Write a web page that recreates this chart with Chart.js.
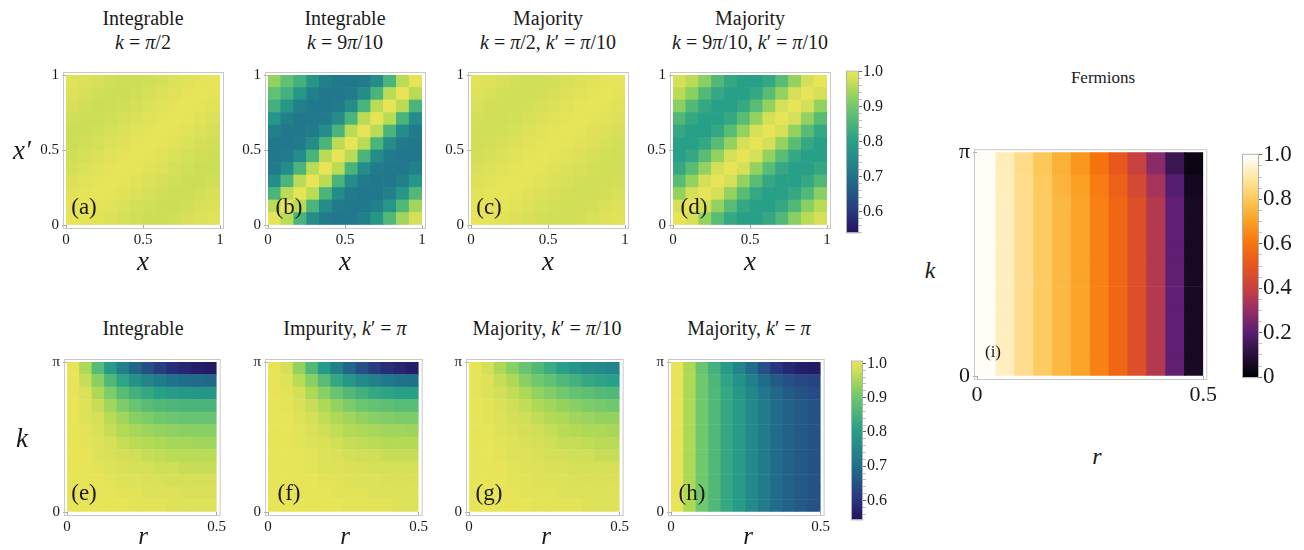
<!DOCTYPE html>
<html>
<head>
<meta charset="utf-8">
<script src="https://cdn.jsdelivr.net/npm/chart.js@4.4.1/dist/chart.umd.min.js"></script>
<style>
  body { margin:0; background:#fff; width:1304px; height:550px; position:relative; overflow:hidden; font-family:"Liberation Serif", "DejaVu Serif", "Times New Roman", serif; color:#1a1a1a; }
  canvas { position:absolute; }
  .lbl { position:absolute; white-space:nowrap; transform:translate(-50%,-50%); }
  .title { font-size:20px; line-height:24px; text-align:center; }
  .ax { font-style:italic; font-size:27px; }
  .tag { font-size:23px; }
  i { font-style:italic; }
</style>
</head>
<body>
<div id="charts"></div>

<div class="lbl title" style="left:143px;top:30px">Integrable<br><i>k</i> = <i>π</i>/2</div>
<div class="lbl title" style="left:345px;top:30px">Integrable<br><i>k</i> = 9<i>π</i>/10</div>
<div class="lbl title" style="left:548px;top:30px">Majority<br><i>k</i> = <i>π</i>/2, <i>k</i>′ = <i>π</i>/10</div>
<div class="lbl title" style="left:750px;top:30px">Majority<br><i>k</i> = 9<i>π</i>/10, <i>k</i>′ = <i>π</i>/10</div>

<div class="lbl title" style="left:143px;top:328px">Integrable</div>
<div class="lbl title" style="left:345px;top:328px">Impurity, <i>k</i>′ = <i>π</i></div>
<div class="lbl title" style="left:547px;top:328px">Majority, <i>k</i>′ = <i>π</i>/10</div>
<div class="lbl title" style="left:749px;top:328px">Majority, <i>k</i>′ = <i>π</i></div>
<div class="lbl title" style="left:1103px;top:78px;font-size:17px">Fermions</div>

<div class="lbl ax" style="left:22px;top:150px">x′</div>
<div class="lbl ax" style="left:143px;top:261px">x</div>
<div class="lbl ax" style="left:345px;top:261px">x</div>
<div class="lbl ax" style="left:548px;top:261px">x</div>
<div class="lbl ax" style="left:750px;top:261px">x</div>
<div class="lbl ax" style="left:22px;top:438px">k</div>
<div class="lbl ax" style="left:143px;top:536px;font-size:25px">r</div>
<div class="lbl ax" style="left:345px;top:536px;font-size:25px">r</div>
<div class="lbl ax" style="left:546px;top:536px;font-size:25px">r</div>
<div class="lbl ax" style="left:748px;top:536px;font-size:25px">r</div>
<div class="lbl ax" style="left:930px;top:270px;font-size:24px">k</div>
<div class="lbl ax" style="left:1097px;top:456px;font-size:24px">r</div>

<div class="lbl tag" style="left:84px;top:207px">(a)</div>
<div class="lbl tag" style="left:289px;top:207px">(b)</div>
<div class="lbl tag" style="left:489px;top:207px">(c)</div>
<div class="lbl tag" style="left:694px;top:207px">(d)</div>
<div class="lbl tag" style="left:84px;top:493px">(e)</div>
<div class="lbl tag" style="left:289px;top:493px">(f)</div>
<div class="lbl tag" style="left:489px;top:493px">(g)</div>
<div class="lbl tag" style="left:692px;top:493px">(h)</div>
<div class="lbl tag" style="left:993px;top:352px;font-size:17px">(i)</div>

<script>
// grids are written top row first (highest x' or k), left column first
const gridA = [
  [0.992,0.988,0.982,0.976,0.973,0.973,0.976,0.980,0.986,0.992,0.997,1.000],
  [0.988,0.982,0.976,0.973,0.973,0.976,0.980,0.986,0.992,0.997,1.000,0.997],
  [0.982,0.976,0.973,0.973,0.976,0.980,0.986,0.992,0.997,1.000,0.997,0.992],
  [0.976,0.973,0.973,0.976,0.980,0.986,0.992,0.997,1.000,0.997,0.992,0.986],
  [0.973,0.973,0.976,0.980,0.986,0.992,0.997,1.000,0.997,0.992,0.986,0.980],
  [0.973,0.976,0.980,0.986,0.992,0.997,1.000,0.997,0.992,0.986,0.980,0.976],
  [0.976,0.980,0.986,0.992,0.997,1.000,0.997,0.992,0.986,0.980,0.976,0.973],
  [0.980,0.986,0.992,0.997,1.000,0.997,0.992,0.986,0.980,0.976,0.973,0.973],
  [0.986,0.992,0.997,1.000,0.997,0.992,0.986,0.980,0.976,0.973,0.973,0.976],
  [0.992,0.997,1.000,0.997,0.992,0.986,0.980,0.976,0.973,0.973,0.976,0.982],
  [0.997,1.000,0.997,0.992,0.986,0.980,0.976,0.973,0.973,0.976,0.982,0.988],
  [1.000,0.997,0.992,0.986,0.980,0.976,0.973,0.973,0.976,0.982,0.988,0.992]
];
const gridB = [
  [0.93,0.88,0.84,0.78,0.73,0.71,0.71,0.72,0.76,0.85,0.96,1.00],
  [0.88,0.84,0.78,0.73,0.71,0.71,0.72,0.76,0.85,0.96,1.00,0.96],
  [0.84,0.78,0.73,0.71,0.71,0.72,0.76,0.85,0.96,1.00,0.96,0.85],
  [0.78,0.73,0.71,0.71,0.72,0.76,0.85,0.96,1.00,0.96,0.85,0.76],
  [0.73,0.71,0.71,0.72,0.76,0.85,0.96,1.00,0.96,0.85,0.76,0.72],
  [0.71,0.71,0.72,0.76,0.85,0.96,1.00,0.96,0.85,0.76,0.72,0.71],
  [0.71,0.72,0.76,0.85,0.96,1.00,0.96,0.85,0.76,0.72,0.71,0.71],
  [0.72,0.76,0.85,0.96,1.00,0.96,0.85,0.76,0.72,0.71,0.71,0.73],
  [0.76,0.85,0.96,1.00,0.96,0.85,0.76,0.72,0.71,0.71,0.73,0.78],
  [0.85,0.96,1.00,0.96,0.85,0.76,0.72,0.71,0.71,0.73,0.78,0.86],
  [0.96,1.00,0.96,0.85,0.76,0.72,0.71,0.71,0.73,0.78,0.86,0.94],
  [1.00,0.96,0.85,0.76,0.72,0.71,0.71,0.73,0.78,0.86,0.94,0.98]
];
const gridC = [
  [0.993,0.989,0.984,0.979,0.976,0.976,0.979,0.983,0.988,0.993,0.997,1.000],
  [0.989,0.984,0.979,0.976,0.976,0.979,0.983,0.988,0.993,0.997,1.000,0.997],
  [0.984,0.979,0.976,0.976,0.979,0.983,0.988,0.993,0.997,1.000,0.997,0.993],
  [0.979,0.976,0.976,0.979,0.983,0.988,0.993,0.997,1.000,0.997,0.993,0.988],
  [0.976,0.976,0.979,0.983,0.988,0.993,0.997,1.000,0.997,0.993,0.988,0.983],
  [0.976,0.979,0.983,0.988,0.993,0.997,1.000,0.997,0.993,0.988,0.983,0.979],
  [0.979,0.983,0.988,0.993,0.997,1.000,0.997,0.993,0.988,0.983,0.979,0.976],
  [0.983,0.988,0.993,0.997,1.000,0.997,0.993,0.988,0.983,0.979,0.976,0.976],
  [0.988,0.993,0.997,1.000,0.997,0.993,0.988,0.983,0.979,0.976,0.976,0.979],
  [0.993,0.997,1.000,0.997,0.993,0.988,0.983,0.979,0.976,0.976,0.979,0.984],
  [0.997,1.000,0.997,0.993,0.988,0.983,0.979,0.976,0.976,0.979,0.984,0.989],
  [1.000,0.997,0.993,0.988,0.983,0.979,0.976,0.976,0.979,0.984,0.989,0.993]
];
const gridD = [
  [0.98,0.96,0.92,0.86,0.82,0.80,0.80,0.82,0.87,0.93,0.98,1.00],
  [0.96,0.92,0.86,0.82,0.80,0.80,0.82,0.87,0.93,0.98,1.00,0.98],
  [0.92,0.86,0.82,0.80,0.80,0.82,0.87,0.93,0.98,1.00,0.98,0.93],
  [0.86,0.82,0.80,0.80,0.82,0.87,0.93,0.98,1.00,0.98,0.93,0.87],
  [0.82,0.80,0.80,0.82,0.87,0.93,0.98,1.00,0.98,0.93,0.87,0.82],
  [0.80,0.80,0.82,0.87,0.93,0.98,1.00,0.98,0.93,0.87,0.82,0.80],
  [0.80,0.82,0.87,0.93,0.98,1.00,0.98,0.93,0.87,0.82,0.80,0.80],
  [0.82,0.87,0.93,0.98,1.00,0.98,0.93,0.87,0.82,0.80,0.80,0.82],
  [0.87,0.93,0.98,1.00,0.98,0.93,0.87,0.82,0.80,0.80,0.82,0.86],
  [0.93,0.98,1.00,0.98,0.93,0.87,0.82,0.80,0.80,0.82,0.86,0.92],
  [0.98,1.00,0.98,0.93,0.87,0.82,0.80,0.80,0.82,0.86,0.92,0.96],
  [1.00,0.98,0.93,0.87,0.82,0.80,0.80,0.82,0.86,0.92,0.96,0.98]
];
const gridE = [
  [1.00,0.95,0.87,0.79,0.73,0.68,0.64,0.61,0.585,0.57,0.56,0.555],
  [1.00,0.97,0.92,0.86,0.81,0.77,0.74,0.72,0.70,0.69,0.685,0.68],
  [1.00,0.985,0.95,0.91,0.87,0.84,0.82,0.80,0.79,0.785,0.78,0.78],
  [1.00,0.99,0.97,0.94,0.91,0.89,0.87,0.86,0.855,0.85,0.85,0.85],
  [1.00,0.99,0.98,0.96,0.94,0.92,0.91,0.90,0.895,0.89,0.89,0.89],
  [1.00,0.995,0.985,0.97,0.955,0.945,0.935,0.93,0.925,0.92,0.92,0.92],
  [1.00,0.995,0.99,0.98,0.97,0.96,0.955,0.95,0.945,0.945,0.94,0.94],
  [1.00,1.00,0.99,0.985,0.98,0.975,0.97,0.965,0.96,0.96,0.96,0.96],
  [1.00,1.00,0.995,0.99,0.985,0.98,0.98,0.975,0.975,0.97,0.97,0.97],
  [1.00,1.00,1.00,0.995,0.99,0.99,0.985,0.985,0.98,0.98,0.98,0.98],
  [1.00,1.00,1.00,1.00,0.995,0.995,0.99,0.99,0.99,0.985,0.985,0.985],
  [1.00,1.00,1.00,1.00,1.00,0.995,0.995,0.995,0.99,0.99,0.99,0.99]
];
const gridF = [
  [1.00,0.98,0.93,0.86,0.79,0.73,0.68,0.64,0.61,0.585,0.57,0.56],
  [1.00,0.99,0.96,0.92,0.87,0.82,0.78,0.75,0.73,0.71,0.70,0.695],
  [1.00,0.995,0.98,0.95,0.92,0.89,0.86,0.84,0.82,0.81,0.80,0.80],
  [1.00,0.995,0.985,0.97,0.95,0.93,0.91,0.895,0.885,0.875,0.87,0.87],
  [1.00,1.00,0.99,0.98,0.965,0.95,0.94,0.93,0.92,0.915,0.91,0.91],
  [1.00,1.00,0.995,0.985,0.975,0.965,0.955,0.95,0.945,0.94,0.94,0.935],
  [1.00,1.00,0.995,0.99,0.985,0.975,0.97,0.965,0.96,0.955,0.955,0.955],
  [1.00,1.00,1.00,0.995,0.99,0.985,0.98,0.975,0.975,0.97,0.97,0.97],
  [1.00,1.00,1.00,0.995,0.99,0.99,0.985,0.985,0.98,0.98,0.98,0.98],
  [1.00,1.00,1.00,1.00,0.995,0.995,0.99,0.99,0.99,0.985,0.985,0.985],
  [1.00,1.00,1.00,1.00,1.00,0.995,0.995,0.995,0.99,0.99,0.99,0.99],
  [1.00,1.00,1.00,1.00,1.00,1.00,0.995,0.995,0.995,0.995,0.99,0.99]
];
const gridG = [
  [1.00,0.98,0.95,0.92,0.89,0.86,0.83,0.80,0.78,0.76,0.75,0.74],
  [1.00,0.99,0.97,0.95,0.92,0.90,0.88,0.86,0.84,0.82,0.81,0.80],
  [1.00,0.99,0.98,0.965,0.95,0.93,0.915,0.90,0.885,0.875,0.865,0.86],
  [1.00,0.995,0.985,0.975,0.965,0.95,0.94,0.93,0.92,0.91,0.905,0.90],
  [1.00,0.995,0.99,0.98,0.975,0.965,0.955,0.95,0.94,0.935,0.93,0.93],
  [1.00,1.00,0.99,0.985,0.98,0.975,0.97,0.96,0.955,0.95,0.95,0.945],
  [1.00,1.00,0.995,0.99,0.985,0.98,0.975,0.97,0.97,0.965,0.96,0.96],
  [1.00,1.00,0.995,0.99,0.99,0.985,0.98,0.98,0.975,0.975,0.97,0.97],
  [1.00,1.00,1.00,0.995,0.99,0.99,0.985,0.985,0.98,0.98,0.98,0.98],
  [1.00,1.00,1.00,0.995,0.995,0.99,0.99,0.99,0.985,0.985,0.985,0.985],
  [1.00,1.00,1.00,1.00,0.995,0.995,0.995,0.99,0.99,0.99,0.99,0.99],
  [1.00,1.00,1.00,1.00,1.00,0.995,0.995,0.995,0.995,0.99,0.99,0.99]
];
const gridH = [
  [1.00,0.95,0.89,0.84,0.79,0.74,0.69,0.64,0.60,0.575,0.56,0.555],
  [1.00,0.95,0.90,0.855,0.81,0.77,0.73,0.69,0.66,0.64,0.63,0.62],
  [1.00,0.95,0.90,0.86,0.82,0.785,0.745,0.71,0.68,0.66,0.645,0.635],
  [1.00,0.95,0.90,0.86,0.82,0.79,0.75,0.72,0.69,0.67,0.655,0.645],
  [1.00,0.95,0.90,0.86,0.82,0.79,0.75,0.72,0.69,0.67,0.655,0.645],
  [1.00,0.95,0.90,0.86,0.82,0.79,0.75,0.72,0.69,0.67,0.655,0.645],
  [1.00,0.95,0.90,0.86,0.82,0.79,0.75,0.72,0.69,0.67,0.655,0.645],
  [1.00,0.95,0.90,0.86,0.82,0.79,0.75,0.72,0.69,0.67,0.655,0.645],
  [1.00,0.95,0.90,0.86,0.82,0.79,0.75,0.72,0.69,0.67,0.655,0.645],
  [1.00,0.95,0.90,0.86,0.82,0.79,0.75,0.72,0.69,0.67,0.655,0.645],
  [1.00,0.95,0.90,0.86,0.82,0.79,0.75,0.72,0.69,0.67,0.655,0.645],
  [1.00,0.95,0.90,0.86,0.82,0.79,0.75,0.72,0.69,0.67,0.655,0.645]
];
const gridI = [
  [0.99,0.92,0.86,0.80,0.74,0.68,0.60,0.51,0.40,0.28,0.14,0.03],
  [0.99,0.925,0.865,0.805,0.75,0.70,0.62,0.54,0.44,0.33,0.19,0.05],
  [0.99,0.93,0.87,0.81,0.76,0.71,0.63,0.56,0.47,0.36,0.21,0.06],
  [0.99,0.93,0.87,0.81,0.76,0.71,0.63,0.56,0.47,0.36,0.21,0.06],
  [0.99,0.93,0.87,0.81,0.76,0.71,0.63,0.56,0.47,0.36,0.21,0.06],
  [0.99,0.93,0.87,0.81,0.76,0.71,0.63,0.56,0.47,0.36,0.21,0.06],
  [0.99,0.93,0.87,0.81,0.76,0.71,0.63,0.56,0.47,0.36,0.21,0.06],
  [0.99,0.93,0.87,0.81,0.76,0.71,0.63,0.56,0.47,0.36,0.21,0.06],
  [0.99,0.93,0.87,0.81,0.76,0.71,0.63,0.56,0.47,0.36,0.21,0.06],
  [0.99,0.93,0.87,0.81,0.76,0.71,0.63,0.56,0.47,0.36,0.21,0.06]
];

// axis ticks
const unitTicks = [0, 0.5, 1];
const unitLabels = ['0', '0.5', '1'];
const rTicks = [0, 0.5];
const rLabels = ['0', '0.5'];
const kTicks = [0, Math.PI];
const kLabels = ['0', 'π'];
const cbTicks = [0.6, 0.7, 0.8, 0.9, 1.0];
const cbLabels = ['0.6', '0.7', '0.8', '0.9', '1.0'];
const cbTicksI = [0, 0.2, 0.4, 0.6, 0.8, 1.0];
const cbLabelsI = ['0', '0.2', '0.4', '0.6', '0.8', '1.0'];

// colour maps: [position, rgb]
const viridisMap = [[0,[35,18,95]],[0.13,[40,55,128]],[0.35,[32,115,140]],[0.57,[40,160,135]],[0.78,[110,200,110]],[0.9,[178,218,85]],[0.95,[210,223,88]],[1,[232,228,88]]];
const sunsetMap = [[0,[0,0,0]],[0.1,[40,15,60]],[0.2,[90,30,115]],[0.3,[150,45,100]],[0.4,[200,65,65]],[0.5,[230,85,30]],[0.6,[245,115,15]],[0.7,[250,160,35]],[0.8,[253,200,90]],[0.9,[255,232,165]],[1,[255,255,255]]];

Chart.defaults.font.family = '"Liberation Serif", "DejaVu Serif", "Times New Roman", serif';
Chart.defaults.color = '#1a1a1a';

function mapColor(v, cmap, lo, hi) {
    let t = (v - lo) / (hi - lo);
    t = Math.max(0, Math.min(1, t));
    for (let i = 1; i < cmap.length; i++) {
        if (t <= cmap[i][0]) {
            const [p0, c0] = cmap[i - 1];
            const [p1, c1] = cmap[i];
            const f = (t - p0) / (p1 - p0);
            const c = c0.map((a, j) => Math.round(a + (c1[j] - a) * f));
            return `rgb(${c[0]},${c[1]},${c[2]})`;
        }
    }
    const c = cmap[cmap.length - 1][1];
    return `rgb(${c[0]},${c[1]},${c[2]})`;
}

function addCanvas(left, topPx, width, height) {
    const canvas = document.createElement('canvas');
    canvas.width = width;
    canvas.height = height;
    canvas.style.left = left + 'px';
    canvas.style.top = topPx + 'px';
    document.getElementById('charts').appendChild(canvas);
    return canvas;
}

// light frame slightly outside the plot area
const framePlugin = {
    id: 'frame',
    afterDraw(chart, args, opts) {
        const a = chart.chartArea, c = chart.ctx, g = opts.gap;
        c.save();
        c.strokeStyle = opts.color;
        c.lineWidth = 1;
        c.strokeRect(a.left - g[0] - 0.5, a.top - g[1] - 0.5, a.right - a.left + g[0] + g[2] + 1, a.bottom - a.top + g[1] + g[3] + 1);
        c.restore();
    }
};

function heatmap(p) {
    const [l, t, w, h] = p.area;
    const padL = p.padL, padB = p.padB, padT = 8, padR = 8;
    const canvas = addCanvas(l - padL, t - padT, padL + w + padR, padT + h + padB);
    const rows = p.grid.length;
    const cellH = p.yMax / rows;
    const datasets = p.grid.slice().reverse().map(row => ({
        data: row.map(() => cellH),
        backgroundColor: row.map(v => mapColor(v, p.cmap, p.vmin, p.vmax)),
        borderWidth: 0,
        barPercentage: 1,
        categoryPercentage: 1
    }));
    const tickFont = { size: p.fontSize };
    new Chart(canvas, {
        type: 'bar',
        data: { labels: p.grid[0].map((v, i) => i), datasets },
        options: {
            responsive: false,
            animation: false,
            events: [],
            layout: { padding: { top: padT, right: padR, left: 0, bottom: 0 } },
            plugins: {
                legend: { display: false },
                tooltip: { enabled: false },
                frame: { color: '#c8c8c8', gap: [2, 2, 3, 3] }
            },
            scales: {
                x: { type: 'category', display: false, stacked: true },
                xt: {
                    type: 'linear', axis: 'x', position: 'bottom', min: 0, max: p.xMax, offset: false,
                    afterBuildTicks: s => { s.ticks = p.xTicks.map(v => ({ value: v })); },
                    afterFit: s => { s.height = padB; },
                    ticks: { callback: (v, i) => p.xLabels[i], font: tickFont, padding: 2, maxRotation: 0, autoSkip: false },
                    grid: { drawOnChartArea: false, offset: false, tickLength: 4, color: '#aaa' },
                    border: { display: false }
                },
                y: {
                    type: 'linear', stacked: true, min: 0, max: p.yMax,
                    afterBuildTicks: s => { s.ticks = p.yTicks.map(v => ({ value: v })); },
                    afterFit: s => { s.width = padL; },
                    ticks: { callback: (v, i) => p.yLabels[i], font: tickFont, padding: 3, autoSkip: false },
                    grid: { drawOnChartArea: false, tickLength: 4, color: '#aaa' },
                    border: { display: false }
                }
            }
        },
        plugins: [framePlugin]
    });
}

function colorbar(cb) {
    const [l, t, w, h] = cb.area;
    const padT = 10, padL = 3, axisW = 44;
    const canvas = addCanvas(l - padL, t - padT, padL + w + axisW, h + 2 * padT);
    const allTicks = [];
    for (let v = cb.min; v <= cb.max + 1e-9; v += cb.minorStep) {
        allTicks.push(Math.round(v * 1000) / 1000);
    }
    const majorIndex = v => cb.ticks.findIndex(m => Math.abs(m - v) < 1e-6);
    new Chart(canvas, {
        type: 'bar',
        data: {
            labels: [''],
            datasets: [{
                data: [[cb.vmin, cb.vmax]],
                borderWidth: 0,
                barPercentage: 1,
                categoryPercentage: 1,
                backgroundColor: ctx => {
                    const chart = ctx.chart;
                    const ys = chart.scales.y;
                    if (!ys || !chart.chartArea) return 'rgba(0,0,0,0)';
                    const g = chart.ctx.createLinearGradient(0, ys.getPixelForValue(cb.vmin), 0, ys.getPixelForValue(cb.vmax));
                    cb.cmap.forEach(([pos, c]) => g.addColorStop(pos, `rgb(${c[0]},${c[1]},${c[2]})`));
                    return g;
                }
            }]
        },
        options: {
            responsive: false,
            animation: false,
            events: [],
            layout: { padding: { top: padT, bottom: padT, left: padL, right: 0 } },
            plugins: {
                legend: { display: false },
                tooltip: { enabled: false },
                frame: { color: '#b0b0b0', gap: [0, 0, 0, 0] }
            },
            scales: {
                x: { type: 'category', display: false },
                y: {
                    position: 'right', min: cb.vmin, max: cb.vmax,
                    afterBuildTicks: s => { s.ticks = allTicks.filter(v => v >= cb.vmin - 1e-9 && v <= cb.vmax + 1e-9).map(v => ({ value: v })); },
                    afterFit: s => { s.width = axisW; },
                    ticks: {
                        callback: v => { const i = majorIndex(v); return i >= 0 ? cb.labels[i] : ''; },
                        font: { size: cb.fontSize }, padding: 1, autoSkip: false
                    },
                    grid: {
                        drawOnChartArea: false, tickLength: 4,
                        color: ctx => (ctx.tick && majorIndex(ctx.tick.value) >= 0) ? '#666' : '#c0c0c0'
                    },
                    border: { display: false }
                }
            }
        },
        plugins: [framePlugin]
    });
}

const topRow = { xMax: 1, yMax: 1, xTicks: unitTicks, xLabels: unitLabels, yTicks: unitTicks, yLabels: unitLabels,
                 cmap: viridisMap, vmin: 0.54, vmax: 1.0, padL: 40, padB: 30, fontSize: 15 };
const bottomRow = { xMax: 0.5, yMax: Math.PI, xTicks: rTicks, xLabels: rLabels, yTicks: kTicks, yLabels: kLabels,
                    cmap: viridisMap, vmin: 0.54, vmax: 1.0, padL: 40, padB: 30, fontSize: 15 };

heatmap({ ...topRow, grid: gridA, area: [66, 71, 154, 154] });
heatmap({ ...topRow, grid: gridB, area: [268, 71, 154, 154] });
heatmap({ ...topRow, grid: gridC, area: [471, 71, 154, 154] });
heatmap({ ...topRow, grid: gridD, area: [673, 71, 154, 154] });

heatmap({ ...bottomRow, grid: gridE, area: [67, 358, 153, 154] });
heatmap({ ...bottomRow, grid: gridF, area: [268, 358, 154, 154] });
heatmap({ ...bottomRow, grid: gridG, area: [469, 358, 154, 154] });
heatmap({ ...bottomRow, grid: gridH, area: [671, 358, 153, 154] });

heatmap({ ...bottomRow, grid: gridI, area: [977, 144, 234, 232], cmap: sunsetMap, vmin: 0, vmax: 1,
          padL: 40, padB: 36, fontSize: 22 });

colorbar({ area: [847, 71, 11, 162], vmin: 0.54, vmax: 1.0, min: 0.54, max: 1.0, minorStep: 0.02,
           ticks: cbTicks, labels: cbLabels, cmap: viridisMap, fontSize: 16 });
colorbar({ area: [852, 361, 10, 159], vmin: 0.545, vmax: 1.005, min: 0.56, max: 1.0, minorStep: 0.02,
           ticks: cbTicks, labels: cbLabels, cmap: viridisMap, fontSize: 16 });
colorbar({ area: [1243, 150, 15, 232], vmin: 0, vmax: 1.0, min: 0, max: 1.0, minorStep: 0.05,
           ticks: cbTicksI, labels: cbLabelsI, cmap: sunsetMap, fontSize: 23 });
</script>
</body>
</html>
